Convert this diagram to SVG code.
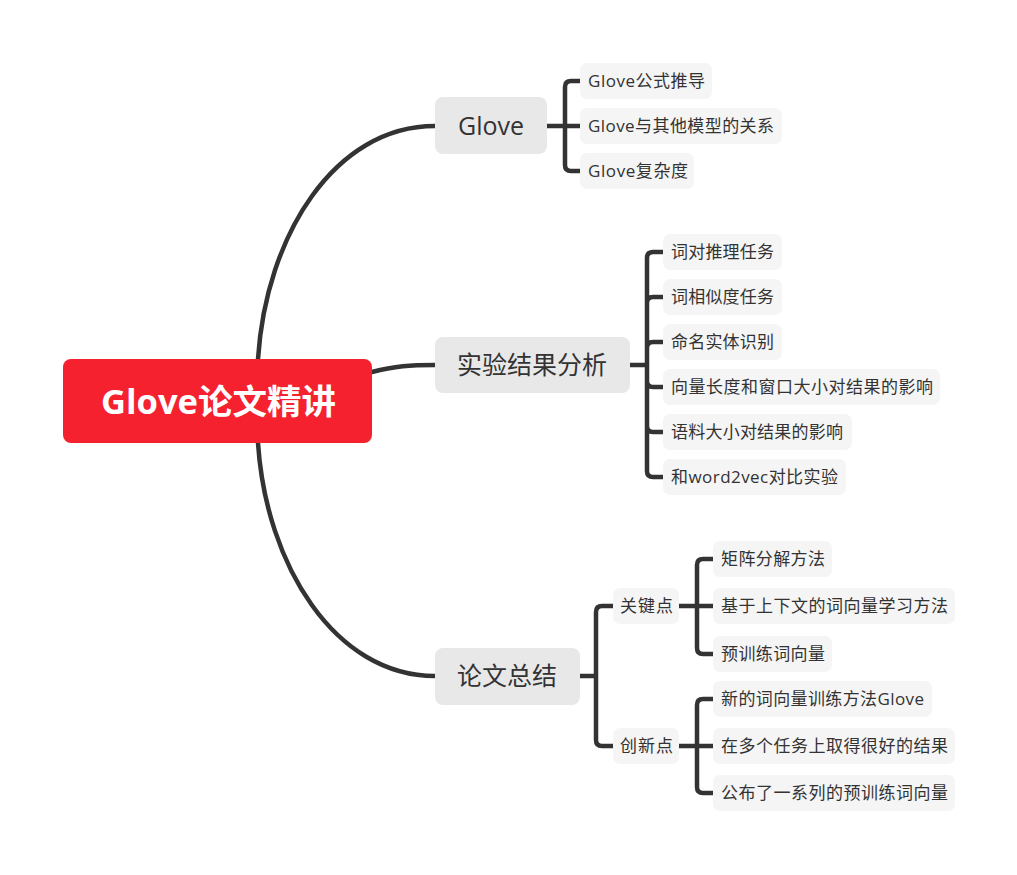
<svg xmlns="http://www.w3.org/2000/svg" width="1017" height="875" viewBox="0 0 1017 875">
<style>
.ln{fill:none;stroke:#333333;stroke-width:4.5;stroke-linecap:round;stroke-linejoin:round}
.main rect{fill:#E8E8E8}
.leaf rect{fill:#F5F5F5}
.main text{font-family:"Open Sans","Noto Sans CJK SC",sans-serif;font-size:25px;fill:#333333;text-anchor:middle}
.leaf text{font-family:"Open Sans","Noto Sans CJK SC",sans-serif;font-size:17px;fill:#333333}
.root text{font-family:"Open Sans","Noto Sans CJK SC",sans-serif;font-size:34px;font-weight:bold;fill:#FFFFFF}
</style>
<rect width="1017" height="875" fill="#FFFFFF"/>
<g id="connectors">
<path class="ln" d="M258,359 C266,235 335,126 435,126"/>
<path class="ln" d="M372,372 C395,366 410,365 435,365"/>
<path class="ln" d="M258,443 C266,565 335,676 435,676"/>
<path class="ln" d="M547,126 L580,126 M580,81 L571,81 Q565,81 565,87 L565,165 Q565,171 571,171 L580,171"/>
<path class="ln" d="M630,365 L647,365 M663,252 L653,252 Q647,252 647,258 L647,471 Q647,477 653,477 L663,477 M647,303 Q647,297 653,297 L663,297 M647,348 Q647,342 653,342 L663,342 M647,381 Q647,387 653,387 L663,387 M647,426 Q647,432 653,432 L663,432"/>
<path class="ln" d="M580,676 L596,676 M613,606 L602,606 Q596,606 596,612 L596,740 Q596,746 602,746 L613,746"/>
<path class="ln" d="M679,606 L713,606 M713,559 L703,559 Q697,559 697,565 L697,648 Q697,654 703,654 L713,654"/>
<path class="ln" d="M679,746 L713,746 M713,699 L703,699 Q697,699 697,705 L697,787 Q697,793 703,793 L713,793"/>
</g>
<g id="root" class="root">
<rect x="63" y="359" width="309" height="84" rx="8" fill="#F6212F"/>
<text x="101" y="414" textLength="235" lengthAdjust="spacingAndGlyphs">Glove论文精讲</text>
</g>
<g id="t-glove" class="main">
<rect x="435" y="97" width="112" height="57" rx="8"/>
<text x="491" y="135">Glove</text>
</g>
<g id="t-exp" class="main">
<rect x="435" y="337" width="195" height="56" rx="8"/>
<text x="532" y="374" textLength="150">实验结果分析</text>
</g>
<g id="t-sum" class="main">
<rect x="435" y="648" width="145" height="57" rx="8"/>
<text x="507" y="685" textLength="100">论文总结</text>
</g>
<g id="l-g1" class="leaf"><rect x="580" y="63" width="132" height="36" rx="7"/><text x="588" y="87" textLength="117">Glove公式推导</text></g>
<g id="l-g2" class="leaf"><rect x="580" y="108" width="202" height="36" rx="7"/><text x="588" y="132" textLength="186">Glove与其他模型的关系</text></g>
<g id="l-g3" class="leaf"><rect x="580" y="153" width="114" height="36" rx="7"/><text x="588" y="177" textLength="100">Glove复杂度</text></g>
<g id="l-e1" class="leaf"><rect x="663" y="234" width="119" height="36" rx="7"/><text x="671" y="258" textLength="103">词对推理任务</text></g>
<g id="l-e2" class="leaf"><rect x="663" y="279" width="119" height="36" rx="7"/><text x="671" y="303" textLength="103">词相似度任务</text></g>
<g id="l-e3" class="leaf"><rect x="663" y="324" width="119" height="36" rx="7"/><text x="671" y="348" textLength="103">命名实体识别</text></g>
<g id="l-e4" class="leaf"><rect x="663" y="369" width="277" height="36" rx="7"/><text x="671" y="393" textLength="262">向量长度和窗口大小对结果的影响</text></g>
<g id="l-e5" class="leaf"><rect x="663" y="414" width="189" height="36" rx="7"/><text x="671" y="438" textLength="172">语料大小对结果的影响</text></g>
<g id="l-e6" class="leaf"><rect x="663" y="459" width="183" height="36" rx="7"/><text x="671" y="483" textLength="167">和word2vec对比实验</text></g>
<g id="s-key" class="leaf"><rect x="613" y="588" width="66" height="36" rx="7"/><text x="620" y="612" textLength="53">关键点</text></g>
<g id="s-new" class="leaf"><rect x="613" y="728" width="66" height="36" rx="7"/><text x="620" y="752" textLength="53">创新点</text></g>
<g id="l-k1" class="leaf"><rect x="713" y="541" width="119" height="36" rx="7"/><text x="721" y="565" textLength="104">矩阵分解方法</text></g>
<g id="l-k2" class="leaf"><rect x="713" y="588" width="242" height="36" rx="7"/><text x="721" y="612" textLength="227">基于上下文的词向量学习方法</text></g>
<g id="l-k3" class="leaf"><rect x="713" y="636" width="119" height="36" rx="7"/><text x="721" y="660" textLength="104">预训练词向量</text></g>
<g id="l-n1" class="leaf"><rect x="713" y="681" width="219" height="36" rx="7"/><text x="721" y="705" textLength="203">新的词向量训练方法Glove</text></g>
<g id="l-n2" class="leaf"><rect x="713" y="728" width="242" height="36" rx="7"/><text x="721" y="752" textLength="227">在多个任务上取得很好的结果</text></g>
<g id="l-n3" class="leaf"><rect x="713" y="775" width="242" height="36" rx="7"/><text x="721" y="799" textLength="227">公布了一系列的预训练词向量</text></g>
</svg>
